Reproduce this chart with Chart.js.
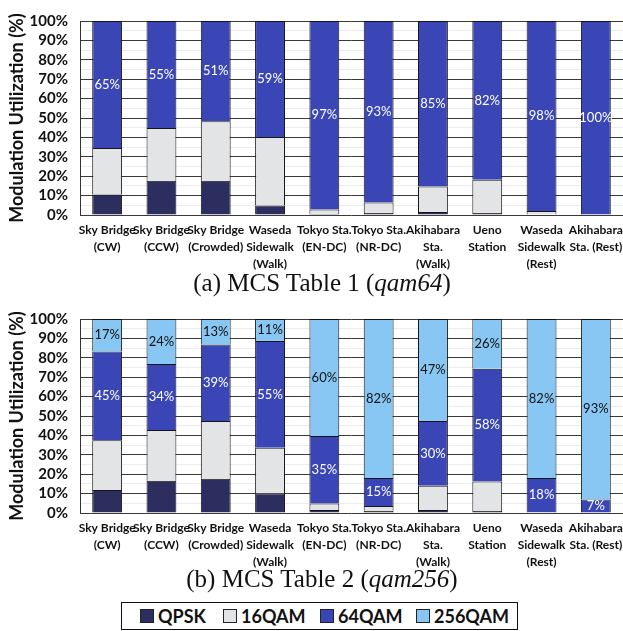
<!DOCTYPE html>
<html lang="en">
<head>
<meta charset="UTF-8">
<title>Modulation Utilization</title>
<script src="https://cdn.jsdelivr.net/npm/chart.js@4.4.1/dist/chart.umd.min.js"></script>
<style>
    body { margin: 0; background: #fff; width: 623px; height: 631px; position: relative; overflow: hidden; }
    .plot { position: absolute; left: 0; width: 623px; height: 272px; }
    .caption { position: absolute; left: 22px; width: 600px; text-align: center; font-family: "Liberation Serif", "Times New Roman", serif; font-size: 25px; color: #111; }
    .legend { position: absolute; left: 121px; top: 602px; width: 395px; height: 26px; border: 1px solid #111; font-family: Lato, sans-serif; font-weight: bold; font-size: 18px; color: #111; }
    .legend span { position: absolute; top: 2px; display: flex; align-items: center; }
    .legend i { display: inline-block; width: 12px; height: 12px; border: 1px solid #222; margin-right: 4px; }
</style>
</head>
<body>
<div class="plot" style="top:0"><canvas id="chart1"></canvas></div>
<div class="caption" style="top:269px">(a) MCS Table 1 (<i>qam64</i>)</div>
<div class="plot" style="top:298px"><canvas id="chart2"></canvas></div>
<div class="caption" style="top:565px">(b) MCS Table 2 (<i>qam256</i>)</div>
<div class="legend">
    <span style="left:18px"><i style="background:#2b2e5e"></i>QPSK</span>
    <span style="left:101px"><i style="background:#e3e4e5"></i>16QAM</span>
    <span style="left:198px"><i style="background:#3a46b6"></i>64QAM</span>
    <span style="left:294px"><i style="background:#88c7f4"></i>256QAM</span>
</div>
<script>
// categories (multi-line x labels)
const places = [
    ['Sky Bridge', '(CW)'],
    ['Sky Bridge', '(CCW)'],
    ['Sky Bridge', '(Crowded)'],
    ['Waseda', 'Sidewalk', '(Walk)'],
    ['Tokyo Sta.', '(EN-DC)'],
    ['Tokyo Sta.', '(NR-DC)'],
    ['Akihabara', 'Sta.', '(Walk)'],
    ['Ueno', 'Station'],
    ['Waseda', 'Sidewalk', '(Rest)'],
    ['Akihabara', 'Sta. (Rest)']
];

// MCS table 1 (qam64), percent
const t1Qpsk  = [10.6, 17.6, 17.6, 4.9, 0.5, 1.0, 1.5, 1.0, 0.3, 0.3];
const t1Qam16 = [24.0, 27.2, 30.7, 35.3, 2.3, 5.5, 13.2, 17.2, 1.7, 0];
const t1Qam64 = [65.4, 55.2, 51.7, 59.8, 97.2, 93.5, 85.3, 81.8, 98.0, 99.7];
const t1Lab64 = ['65%', '55%', '51%', '59%', '97%', '93%', '85%', '82%', '98%', '100%'];

// MCS table 2 (qam256), percent
const t2Qpsk   = [11.8, 16.6, 17.6, 10.1, 1.5, 1.1, 1.6, 1.0, 0.3, 0.3];
const t2Qam16  = [25.7, 26.2, 29.8, 23.5, 3.4, 2.5, 12.4, 15.2, 0.2, 0];
const t2Qam64  = [45.8, 34.0, 39.5, 55.1, 34.8, 14.5, 33.4, 58.1, 17.6, 6.6];
const t2Qam256 = [16.7, 23.2, 13.1, 11.3, 60.3, 81.9, 52.6, 25.7, 81.9, 93.1];
const t2Lab64  = ['45%', '34%', '39%', '55%', '35%', '15%', '30%', '58%', '18%', '7%'];
const t2Lab256 = ['17%', '24%', '13%', '11%', '60%', '82%', '47%', '26%', '82%', '93%'];

const colors = { qpsk: '#2b2e5e', qam16: '#e3e4e5', qam64: '#3a46b6', qam256: '#88c7f4' };

// text inside the bar segments
const segLabels = {
    id: 'segLabels',
    afterDatasetsDraw(chart) {
        const ctx = chart.ctx;
        chart.data.datasets.forEach((ds, i) => {
            if (!ds.segText) return;
            chart.getDatasetMeta(i).data.forEach((bar, j) => {
                ctx.save();
                ctx.font = '13px Lato';
                ctx.fillStyle = ds.segColor;
                ctx.textAlign = 'center';
                ctx.textBaseline = 'middle';
                ctx.fillText(ds.segText[j], bar.x, (bar.y + bar.base) / 2);
                ctx.restore();
            });
        });
    }
};

// left edge of the plot area
const leftEdge = {
    id: 'leftEdge',
    beforeDatasetsDraw(chart) {
        const a = chart.chartArea, ctx = chart.ctx;
        const x = Math.round(a.left) + 0.5;
        ctx.save();
        ctx.strokeStyle = '#333';
        ctx.lineWidth = 1;
        ctx.beginPath();
        ctx.moveTo(x, a.top);
        ctx.lineTo(x, a.bottom);
        ctx.stroke();
        ctx.restore();
    }
};

function ds(label, data, color, text, textColor) {
    return {
        label: label, data: data, backgroundColor: color,
        borderColor: '#151515', borderWidth: 1,
        barPercentage: 0.55, categoryPercentage: 1,
        segText: text, segColor: textColor
    };
}

function makeChart(id, datasets) {
    return new Chart(document.getElementById(id), {
        type: 'bar',
        data: { labels: places, datasets: datasets },
        options: {
            responsive: true,
            maintainAspectRatio: false,
            animation: false,
            layout: { padding: { top: 10, right: 0, left: 0, bottom: 0 } },
            plugins: { legend: { display: false }, tooltip: { enabled: false } },
            scales: {
                x: {
                    stacked: true,
                    grid: { display: false, drawTicks: false },
                    border: { display: false },
                    ticks: { color: '#111', font: { family: 'Lato', weight: 'bold', size: 12, lineHeight: 1.4 }, maxRotation: 0, autoSkip: false, padding: 7 },
                    afterFit(s) { s.height = 57; s.paddingLeft = 0; s.paddingRight = 0; }
                },
                y: {
                    stacked: true,
                    min: 0, max: 100,
                    grid: {
                        drawTicks: false,
                        color: c => (c.tick && c.tick.value % 10 === 0) ? '#3a3a3a' : '#ececec'
                    },
                    border: { display: false },
                    ticks: {
                        stepSize: 5,
                        autoSkip: false,
                        padding: 12,
                        color: '#111',
                        font: { family: 'Lato', weight: 'bold', size: 15 },
                        callback: v => v % 10 === 0 ? v + '%' : ''
                    },
                    title: {
                        display: true,
                        text: 'Modulation Utilization (%)',
                        color: '#111',
                        font: { family: 'Lato', weight: 'bold', size: 18 },
                        padding: { top: 6, bottom: 0 }
                    },
                    afterFit(s) { s.width = 80; }
                }
            }
        },
        plugins: [leftEdge, segLabels]
    });
}

makeChart('chart1', [
    ds('QPSK', t1Qpsk, colors.qpsk),
    ds('16QAM', t1Qam16, colors.qam16),
    ds('64QAM', t1Qam64, colors.qam64, t1Lab64, '#ffffff')
]);

makeChart('chart2', [
    ds('QPSK', t2Qpsk, colors.qpsk),
    ds('16QAM', t2Qam16, colors.qam16),
    ds('64QAM', t2Qam64, colors.qam64, t2Lab64, '#ffffff'),
    ds('256QAM', t2Qam256, colors.qam256, t2Lab256, '#111111')
]);
</script>
</body>
</html>
